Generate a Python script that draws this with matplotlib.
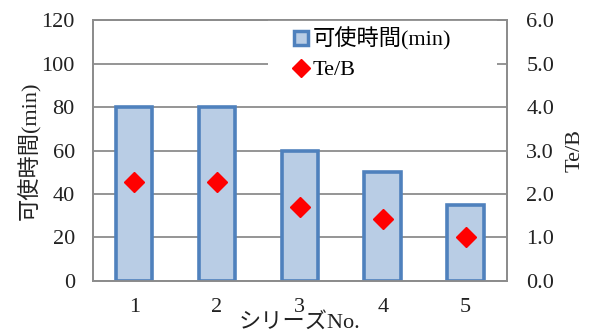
import matplotlib
matplotlib.use("Agg")
import matplotlib.pyplot as plt
from matplotlib.patches import Patch, Rectangle
from matplotlib.lines import Line2D

plt.rcParams['font.family'] = ['Liberation Serif', 'Noto Sans CJK JP']

# データ
series = ["1", "2", "3", "4", "5"]
pot_life = [80, 80, 60, 50, 35]          # 可使時間(min)
te_b = [2.28, 2.28, 1.71, 1.43, 1.0]     # Te/B

fig = plt.figure(figsize=(5.95, 3.36), dpi=100)
ax = fig.add_axes([0.156, 0.164, 0.696, 0.776])
ax2 = ax.twinx()

x = range(len(series))
ax.bar(x, pot_life, width=0.44, color="#B9CDE5", edgecolor="#4F81BD",
       linewidth=2.6, zorder=3)
ax2.plot(x, te_b, linestyle="none", marker="D", markersize=10,
         color="#FF0000", zorder=4)

ax.set_xlim(-0.5, len(series) - 0.5)
ax.set_ylim(0, 120)
ax.set_yticks(range(0, 121, 20))
ax2.set_ylim(0, 6)
ax2.set_yticks([i * 1.0 for i in range(7)])
ax2.set_yticklabels(["%.1f" % v for v in ax2.get_yticks()])
ax.set_xticks(list(x))
ax.set_xticklabels(series)

ax.grid(axis="y", color="#8c8c8c", linewidth=1.3, zorder=0)
ax.set_axisbelow(True)
for a in (ax, ax2):
    for s in a.spines.values():
        s.set_color("#8c8c8c")
        s.set_linewidth(1.3)
    a.tick_params(length=0, labelsize=16, colors="#222222")
ax.tick_params(axis="y", pad=13)
ax.tick_params(axis="x", pad=12)
ax2.tick_params(axis="y", pad=14)

ax.set_ylabel("可使時間(min)", fontsize=16, color="#222222", labelpad=0)
ax2.set_ylabel("Te/B", fontsize=16, color="#222222", labelpad=8)
ax.set_xlabel("シリーズNo.", fontsize=16, color="#222222", labelpad=-3)

# 凡例の白い背景
ax2.add_patch(Rectangle((0.423, 0.713), 0.553, 0.287, transform=ax2.transAxes,
                        facecolor="white", edgecolor="none", zorder=1))
handles = [Patch(facecolor="#B9CDE5", edgecolor="#4F81BD", linewidth=2.5),
           Line2D([], [], linestyle="none", marker="D", markersize=9,
                  color="#FF0000")]
leg = ax2.legend(handles, ["可使時間(min)", "Te/B"], loc="upper left",
                 bbox_to_anchor=(0.487, 0.973), frameon=False,
                 fontsize=16, handlelength=0.6, handleheight=0.6,
                 handletextpad=0.2, borderpad=0, labelspacing=0.45,
                 borderaxespad=0)
leg.set_zorder(10)

fig.savefig("out.png", dpi=100)
